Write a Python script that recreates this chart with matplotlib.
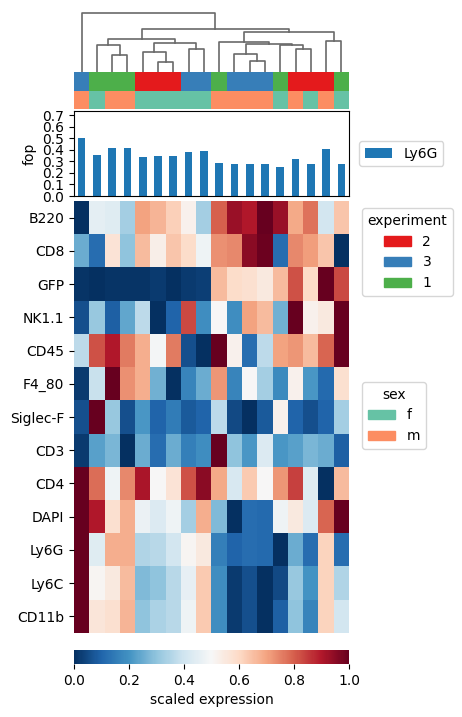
import numpy as np
import matplotlib
matplotlib.use('Agg')
import matplotlib.pyplot as plt
from matplotlib.colors import ListedColormap
from matplotlib.patches import Patch

# markers (rows) and samples (columns, already in dendrogram order)
markers = ['B220', 'CD8', 'GFP', 'NK1.1', 'CD45', 'F4_80', 'Siglec-F',
           'CD3', 'CD4', 'DAPI', 'Ly6G', 'Ly6C', 'CD11b']

expr = [
    [0.00, 0.45, 0.44, 0.33, 0.70, 0.67, 0.62, 0.52, 0.33, 0.80, 0.93, 0.90, 1.00, 0.93, 0.69, 0.77, 0.41, 0.64],
    [0.25, 0.12, 0.57, 0.30, 0.66, 0.53, 0.64, 0.59, 0.48, 0.73, 0.74, 0.95, 0.99, 0.12, 0.74, 0.71, 0.64, 0.00],
    [0.01, 0.00, 0.01, 0.01, 0.01, 0.02, 0.00, 0.02, 0.03, 0.66, 0.59, 0.58, 0.55, 0.66, 0.82, 0.60, 1.00, 0.83],
    [0.06, 0.31, 0.09, 0.24, 0.37, 0.00, 0.10, 0.83, 0.19, 0.50, 0.19, 0.70, 0.66, 0.26, 1.00, 0.52, 0.55, 1.00],
    [0.37, 0.82, 0.90, 0.76, 0.68, 0.49, 0.76, 0.06, 0.00, 1.00, 0.52, 0.12, 0.37, 0.70, 0.72, 0.66, 0.79, 1.00],
    [0.02, 0.39, 1.00, 0.73, 0.68, 0.26, 0.00, 0.17, 0.25, 0.72, 0.17, 0.50, 0.33, 0.18, 0.52, 0.21, 0.11, 0.58],
    [0.06, 1.00, 0.31, 0.06, 0.21, 0.10, 0.15, 0.08, 0.10, 0.37, 0.05, 0.00, 0.08, 0.52, 0.10, 0.06, 0.10, 0.33],
    [0.02, 0.23, 0.27, 0.00, 0.25, 0.12, 0.25, 0.16, 0.19, 1.00, 0.30, 0.21, 0.43, 0.21, 0.23, 0.27, 0.25, 0.09],
    [1.00, 0.78, 0.48, 0.74, 0.91, 0.50, 0.57, 0.82, 0.95, 0.69, 0.42, 0.63, 0.50, 0.72, 0.84, 0.44, 0.00, 0.66],
    [1.00, 0.90, 0.58, 0.68, 0.47, 0.43, 0.48, 0.33, 0.68, 0.28, 0.00, 0.12, 0.11, 0.48, 0.55, 0.43, 0.79, 1.00],
    [1.00, 0.44, 0.68, 0.68, 0.35, 0.36, 0.41, 0.51, 0.55, 0.16, 0.10, 0.12, 0.11, 0.00, 0.25, 0.12, 0.61, 0.12],
    [1.00, 0.51, 0.55, 0.66, 0.28, 0.30, 0.36, 0.46, 0.63, 0.19, 0.02, 0.06, 0.00, 0.05, 0.31, 0.20, 0.61, 0.35],
    [1.00, 0.56, 0.58, 0.67, 0.30, 0.34, 0.36, 0.48, 0.63, 0.19, 0.02, 0.06, 0.00, 0.09, 0.30, 0.17, 0.61, 0.41],
]

# frequency of parent (Ly6G) per sample
fop = [0.50, 0.36, 0.42, 0.42, 0.34, 0.35, 0.35, 0.38, 0.39, 0.29,
       0.28, 0.28, 0.28, 0.25, 0.32, 0.28, 0.41, 0.28]

experiment = ['3', '1', '1', '1', '2', '2', '2', '3', '3', '1',
              '3', '3', '3', '1', '2', '2', '2', '1']
sex = ['m', 'f', 'm', 'm', 'f', 'f', 'f', 'f', 'f', 'm',
       'm', 'm', 'm', 'f', 'm', 'f', 'm', 'f']

exp_levels = ['2', '3', '1']
exp_colors = ['#e41a1c', '#377eb8', '#4daf4a']
sex_levels = ['f', 'm']
sex_colors = ['#66c2a5', '#fc8d62']

# linkage: (left, right, height); ids >= 18 are merged nodes
linkage = [
    (5, 6, 29), (11, 12, 32), (2, 3, 50), (10, 19, 53), (4, 18, 59),
    (7, 8, 68), (14, 15, 68), (1, 20, 80), (13, 24, 80), (21, 26, 83),
    (22, 23, 86), (9, 27, 89), (16, 17, 92), (25, 28, 98), (29, 30, 119),
    (31, 32, 128), (0, 33, 176),
]

n = len(fop)
W, H = 462, 717


def rect(x0, y0, x1, y1):
    return [x0 / W, 1 - y1 / H, (x1 - x0) / W, (y1 - y0) / H]


fig = plt.figure(figsize=(W / 100, H / 100), dpi=100)

# dendrogram
ax_d = fig.add_axes(rect(74, 13.3, 349, 72))
xs = {i: float(i) for i in range(n)}
ys = {i: 0.0 for i in range(n)}
for k, (a, b, h) in enumerate(linkage):
    ax_d.plot([xs[a], xs[a], xs[b], xs[b]], [ys[a], h, h, ys[b]],
              color='dimgray', lw=1.2, clip_on=False)
    xs[n + k] = (xs[a] + xs[b]) / 2
    ys[n + k] = h
ax_d.set_xlim(-0.5, n - 0.5)
ax_d.set_ylim(0, linkage[-1][2])
ax_d.axis('off')

# annotation rows
for (y0, y1), vals, levels, cols in [((72, 90.7), experiment, exp_levels, exp_colors),
                                      ((90.7, 109.3), sex, sex_levels, sex_colors)]:
    ax_a = fig.add_axes(rect(74, y0, 349, y1))
    idx = np.array([[levels.index(v) for v in vals]])
    ax_a.imshow(idx, cmap=ListedColormap(cols), aspect='auto', vmin=-0.5,
                vmax=len(levels) - 0.5, interpolation='nearest')
    ax_a.axis('off')

# bar chart
ax_b = fig.add_axes(rect(74, 110.7, 349, 196))
bars = ax_b.bar(np.arange(n), fop, width=0.5, color='#1f77b4', label='Ly6G')
ax_b.set_xlim(-0.5, n - 0.5)
ax_b.set_ylim(0, 0.74)
ax_b.set_yticks(np.arange(0, 0.71, 0.1))
ax_b.set_xticks([])
ax_b.set_ylabel('fop')

# heatmap
ax_h = fig.add_axes(rect(74, 201, 349, 633))
im = ax_h.imshow(np.array(expr), cmap='RdBu_r', vmin=0, vmax=1, aspect='auto',
                 interpolation='nearest')
ax_h.set_yticks(np.arange(len(markers)))
ax_h.set_yticklabels(markers)
ax_h.set_xticks([])
for s in ax_h.spines.values():
    s.set_visible(False)

# colorbar
cax = fig.add_axes(rect(74, 650, 349, 664))
cb = fig.colorbar(im, cax=cax, orientation='horizontal')
cb.set_label('scaled expression')
cb.outline.set_visible(False)

# legends
fig.legend(handles=[bars], labels=['Ly6G'], loc='upper left',
           bbox_to_anchor=(359 / W, 1 - 141 / H), borderaxespad=0)
fig.legend(handles=[Patch(color=c) for c in exp_colors], labels=exp_levels,
           title='experiment', loc='upper left',
           bbox_to_anchor=(362 / W, 1 - 208 / H), borderaxespad=0)
fig.legend(handles=[Patch(color=c) for c in sex_colors], labels=sex_levels,
           title='sex', loc='upper left',
           bbox_to_anchor=(362 / W, 1 - 382 / H), borderaxespad=0)

fig.savefig('out.png', dpi=100)
